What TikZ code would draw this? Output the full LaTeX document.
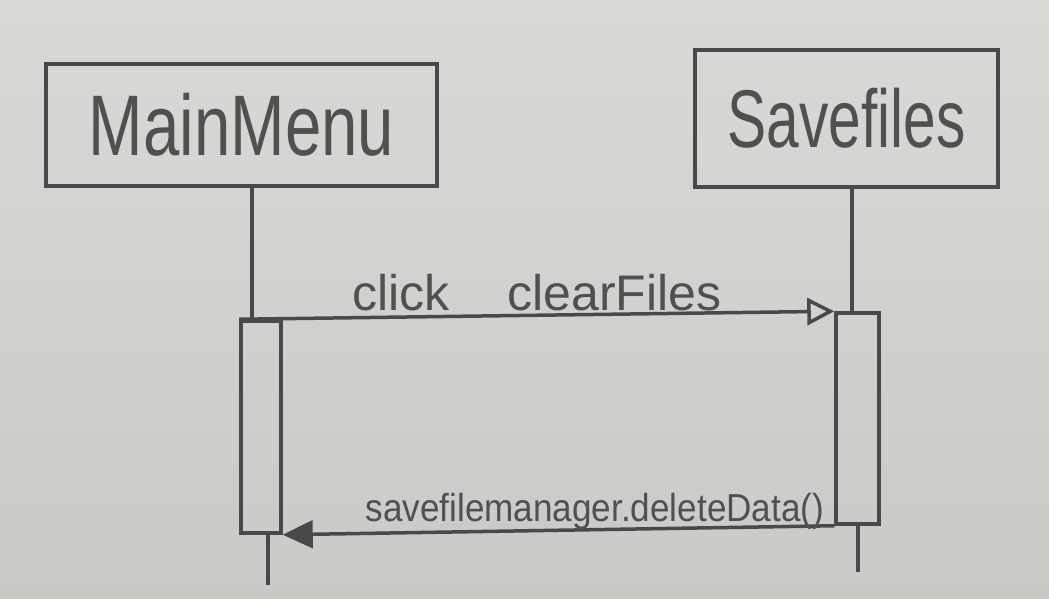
\documentclass[tikz,border=0pt]{standalone}
\usepackage{fontspec}
\setmainfont{Liberation Sans}
\usetikzlibrary{arrows.meta}
\definecolor{paperlight}{HTML}{D9D9D5}
\definecolor{paperdark}{HTML}{C9CAC5}
\definecolor{pencil}{HTML}{494947}
\definecolor{ink}{HTML}{505050}
\tikzset{
  objbox/.style={draw=pencil, line width=3.5pt, rectangle, inner sep=0pt},
  actbox/.style={draw=pencil, line width=3.5pt, rectangle, inner sep=0pt, minimum width=#1},
  lifeline/.style={draw=pencil, line width=3.5pt},
  callmsg/.style={draw=pencil, line width=3.5pt,
    -{Triangle[open, length=27pt, width=27pt, line width=3.5pt]}},
  retmsg/.style={draw=pencil, line width=3.5pt,
    -{Triangle[length=30pt, width=28pt, line width=2pt]}},
  msglabel/.style={text=ink, inner sep=0pt, anchor=base},
}
\begin{document}
\begin{tikzpicture}[x=1pt, y=-1pt]
  % paper
  \shade[top color=paperlight, bottom color=paperdark] (0,0) rectangle (1049,598);
  \useasboundingbox (0,0) rectangle (1049,598);

  % object headers
  \node[objbox, minimum width=391pt, minimum height=122pt] (mm) at (241.5,125)
    {\color{ink}\scalebox{0.76}[1]{\fontsize{86pt}{86pt}\selectfont MainMenu}};
  \node[objbox, minimum width=303pt, minimum height=137pt] (sf) at (846.5,118.5)
    {\color{ink}\scalebox{0.715}[1]{\fontsize{82pt}{82pt}\selectfont Savefiles}};

  % activation bars
  \node[actbox=40pt, minimum height=212pt] (actA) at (261,427) {};
  \node[actbox=43pt, minimum height=211pt] (actB) at (857.5,418.5) {};

  % lifeline x positions
  \coordinate (xA1) at (252,0);
  \coordinate (xA2) at (268,0);
  \coordinate (xB1) at (852,0);
  \coordinate (xB2) at (858,0);
  \coordinate (endA) at (268,585);
  \coordinate (endB) at (858,572);

  % lifelines
  \draw[lifeline] (mm.south -| xA1) -- (actA.north -| xA1);
  \draw[lifeline] (actA.south -| xA2) -- (endA);
  \draw[lifeline] (sf.south -| xB1) -- (actB.north -| xB1);
  \draw[lifeline] (actB.south -| xB2) -- (endB);

  % messages
  \draw[callmsg] (actA.north west) -- (actB.north west)
    node[msglabel, pos=0.5, yshift=5pt]
    {\fontsize{50pt}{50pt}\selectfont click\hspace{58pt}clearFiles};
  \draw[retmsg] (actB.south west) -- (actA.south east)
    node[msglabel, pos=0.434, yshift=8pt]
    {\scalebox{0.9}[1]{\fontsize{39pt}{39pt}\selectfont savefilemanager.deleteData()}};
\end{tikzpicture}
\end{document}
